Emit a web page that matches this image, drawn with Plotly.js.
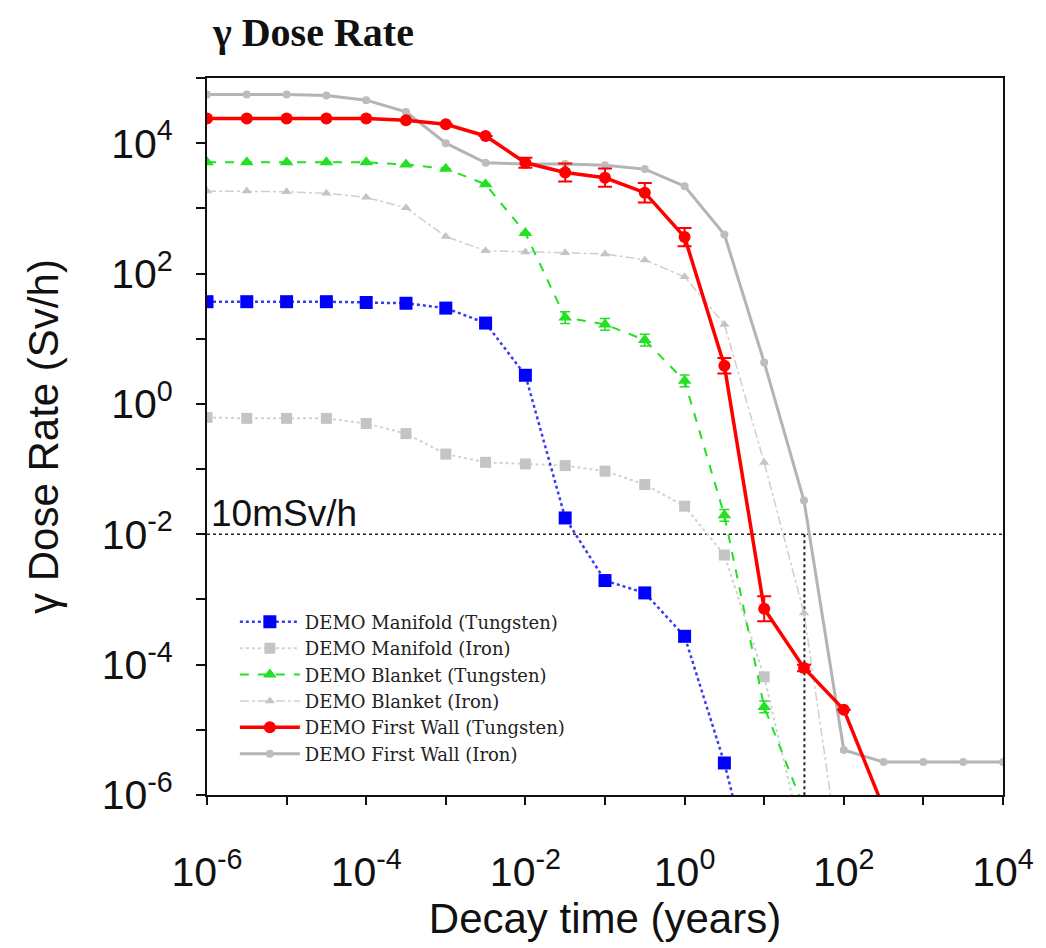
<!DOCTYPE html>
<html>
<head>
<meta charset="utf-8">
<script src="https://cdn.plot.ly/plotly-3.0.1.min.js"></script>
<style>html,body{margin:0;padding:0;background:#fff;}#chart{width:1046px;height:948px;}</style>
</head>
<body>
<div id="chart"></div>
<script>
// Decay times (years), half-decade steps
const decayTime = [1e-6, 3.16e-6, 1e-5, 3.16e-5, 1e-4, 3.16e-4, 1e-3, 3.16e-3, 1e-2, 3.16e-2,
                   0.1, 0.316, 1, 3.16, 10, 31.6, 100, 316, 1000, 3162, 10000];

// Dose rates (Sv/h)
const manifoldTungsten = [37, 37, 37, 37, 36, 35, 29.5, 17.4, 2.75, 0.0178, 0.00195, 0.00126, 2.72e-4, 3.1e-6, 1.1e-8];
const manifoldIron     = [0.62, 0.60, 0.60, 0.60, 0.50, 0.35, 0.17, 0.127, 0.12, 0.113, 0.093, 0.058, 0.027, 0.0048, 6.5e-5, 1.6e-7];
const blanketTungsten  = [5100, 5100, 5100, 5100, 5100, 4700, 4070, 2340, 417, 21.1, 16.6, 9.55, 2.26, 0.0195, 2.24e-5, 6.3e-7];
const blanketTungErrP  = [0, 0, 0, 0, 0, 0, 0, 0, 0, 4.9, 3.8, 2.2, 0.52, 0.0045, 5.2e-6, 0];
const blanketTungErrM  = [0, 0, 0, 0, 0, 0, 0, 0, 0, 3.9, 3.1, 1.8, 0.42, 0.0036, 4.2e-6, 0];
const blanketIron      = [1840, 1840, 1800, 1700, 1480, 1020, 370, 224, 214, 209, 200, 162, 89, 16.6, 0.126, 6.2e-4, 4e-8];
const firstWallTungsten= [24000, 24000, 24000, 24000, 24000, 22400, 19500, 12900, 5010, 3550, 2950, 1740, 363, 3.85, 7.2e-4, 8.9e-5, 2.04e-5, 6.3e-7];
const firstWallTungErrP= [0, 0, 0, 0, 0, 0, 0, 0, 972, 1349, 1121, 718, 138, 1.22, 3.95e-4, 1.09e-5, 0, 0];
const firstWallTungErrM= [0, 0, 0, 0, 0, 0, 0, 0, 814, 978, 813, 508, 100, 0.93, 2.55e-4, 9.7e-6, 0, 0];
const firstWallIron    = [56000, 56000, 56000, 53700, 45700, 30200, 10000, 5000, 4800, 4800, 4570, 4000, 2190, 398, 4.33, 0.033, 4.9e-6, 3.2e-6, 3.2e-6, 3.2e-6, 3.2e-6];

// Reference: 10 mSv/h threshold and the time first wall (iron) falls below it
const thresholdX = [1e-6, 1e4];
const thresholdY = [0.01, 0.01];
const crossX = [32, 32];
const crossY = [0.01, 1e-7];

const xTickVals = [1e-6, 1e-5, 1e-4, 1e-3, 1e-2, 1e-1, 1, 10, 100, 1000, 1e4];
const xTickText = ['10<sup>-6</sup>', '', '10<sup>-4</sup>', '', '10<sup>-2</sup>', '', '10<sup>0</sup>', '', '10<sup>2</sup>', '', '10<sup>4</sup>'];
const yTickVals = [1e-6, 1e-5, 1e-4, 1e-3, 1e-2, 1e-1, 1, 10, 100, 1000, 1e4, 1e5];
const yTickText = ['10<sup>-6</sup>', '', '10<sup>-4</sup>', '', '10<sup>-2</sup>', '', '10<sup>0</sup>', '', '10<sup>2</sup>', '', '10<sup>4</sup>', ''];

const traces = [
  {x: thresholdX, y: thresholdY, mode: 'lines', showlegend: false, hoverinfo: 'skip',
   line: {color: '#222', width: 1.5, dash: 'dot'}},
  {x: crossX, y: crossY, mode: 'lines', showlegend: false, hoverinfo: 'skip',
   line: {color: '#222', width: 2, dash: 'dot'}},
  {name: 'DEMO Manifold (Iron)', legendrank: 2, x: decayTime.slice(0, manifoldIron.length), y: manifoldIron,
   mode: 'lines+markers', line: {color: '#d2d2d2', width: 2, dash: 'dot'},
   marker: {symbol: 'square', size: 11, color: '#c4c4c4'}},
  {name: 'DEMO Blanket (Iron)', legendrank: 4, x: decayTime.slice(0, blanketIron.length), y: blanketIron,
   mode: 'lines+markers', line: {color: '#cfcfcf', width: 1.5, dash: 'dashdot'},
   marker: {symbol: 'triangle-up', size: 9, color: '#c4c4c4'}},
  {name: 'DEMO First Wall (Iron)', legendrank: 6, x: decayTime.slice(0, firstWallIron.length), y: firstWallIron,
   mode: 'lines+markers', line: {color: '#b4b4b4', width: 3},
   marker: {symbol: 'circle', size: 8, color: '#bdbdbd'}},
  {name: 'DEMO Manifold (Tungsten)', legendrank: 1, x: decayTime.slice(0, manifoldTungsten.length), y: manifoldTungsten,
   mode: 'lines+markers', line: {color: '#3a3af0', width: 2.5, dash: 'dot'},
   marker: {symbol: 'square', size: 13, color: '#0000ff'}},
  {name: 'DEMO Blanket (Tungsten)', legendrank: 3, x: decayTime.slice(0, blanketTungsten.length), y: blanketTungsten,
   mode: 'lines+markers', line: {color: '#22e022', width: 2, dash: 'dash'},
   marker: {symbol: 'triangle-up', size: 12, color: '#22e022'},
   error_y: {type: 'data', symmetric: false, array: blanketTungErrP, arrayminus: blanketTungErrM,
             color: '#22e022', thickness: 1.5, width: 5}},
  {name: 'DEMO First Wall (Tungsten)', legendrank: 5, x: decayTime.slice(0, firstWallTungsten.length), y: firstWallTungsten,
   mode: 'lines+markers', line: {color: '#ff0000', width: 3.5},
   marker: {symbol: 'circle', size: 12, color: '#ff0000'},
   error_y: {type: 'data', symmetric: false, array: firstWallTungErrP, arrayminus: firstWallTungErrM,
             color: '#ff0000', thickness: 2, width: 7}}
];

const axisFont = {family: 'Liberation Sans, Arial, sans-serif', size: 41, color: '#111'};

const layout = {
  width: 1046, height: 948,
  margin: {l: 207, r: 43, t: 78, b: 153},
  paper_bgcolor: '#fff', plot_bgcolor: '#fff',
  title: {text: '<b>\u03b3 Dose Rate</b>', x: 213 / 1046, xanchor: 'left', xref: 'container',
          y: 1 - 32 / 948, yanchor: 'middle', yref: 'container',
          font: {family: 'Liberation Serif, Times New Roman, serif', size: 40, color: '#111'}},
  xaxis: {type: 'log', range: [-6, 4], tickmode: 'array', tickvals: xTickVals, ticktext: xTickText,
          ticks: 'outside', ticklen: 8, tickwidth: 2, tickcolor: '#111',
          showline: true, linecolor: '#111', linewidth: 2, mirror: true,
          showgrid: false, zeroline: false, tickfont: axisFont, ticklabelstandoff: 32,
          title: {text: 'Decay time (years)', font: {family: 'Liberation Sans, Arial, sans-serif', size: 42, color: '#111'}, standoff: 6}},
  yaxis: {type: 'log', range: [-6, 5], tickmode: 'array', tickvals: yTickVals, ticktext: yTickText,
          ticks: 'outside', ticklen: 9, tickwidth: 2, tickcolor: '#111',
          showline: true, linecolor: '#111', linewidth: 2, mirror: true,
          showgrid: false, zeroline: false, tickfont: axisFont, ticklabelstandoff: 15,
          title: {text: '\u03b3 Dose Rate (Sv/h)', font: {family: 'Liberation Sans, Arial, sans-serif', size: 42, color: '#111'}, standoff: 30}},
  legend: {x: 0.035, y: 0.267, xanchor: 'left', yanchor: 'top', bgcolor: 'rgba(255,255,255,0)',
           font: {family: 'DejaVu Serif, serif', size: 18, color: '#222'},
           itemwidth: 60, tracegroupgap: 0},
  annotations: [{text: '10mSv/h', xref: 'paper', yref: 'paper', x: 0.003, y: 4 / 11, xanchor: 'left', yanchor: 'bottom',
                 yshift: -2, showarrow: false,
                 font: {family: 'Liberation Sans, Arial, sans-serif', size: 37, color: '#111'}}],
  showlegend: true
};

Plotly.newPlot('chart', traces, layout, {displayModeBar: false, staticPlot: true});
</script>
</body>
</html>
